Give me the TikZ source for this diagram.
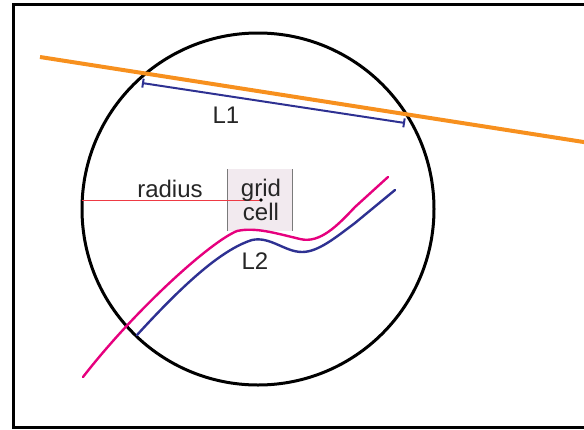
\documentclass[tikz,border=0pt]{standalone}
\usepackage{fontspec}
\setmainfont{Liberation Sans}
\usetikzlibrary{arrows.meta}
\definecolor{orng}{HTML}{F7901E}
\definecolor{navy}{HTML}{2E3192}
\definecolor{mag}{HTML}{E6007E}
\definecolor{redl}{HTML}{EE3A44}
\definecolor{cellfill}{HTML}{F2EAEF}
\definecolor{cellline}{HTML}{7A7A7A}
\tikzset{
  lbl/.style={font=\fontsize{24}{26}\selectfont, text=black!85, inner sep=0pt},
  curve/.style={line width=2.4pt, line cap=round, line join=round},
}
\begin{document}
\begin{tikzpicture}[x=1pt,y=-1pt]
\useasboundingbox (0,0) rectangle (584,429);
% frame
\draw[line width=3pt] (590,4.5) -- (13.5,4.5) -- (13.5,427.5) -- (590,427.5);
% grid cell
\fill[cellfill] (227,169) rectangle (292,231);
\draw[cellline, line width=1pt] (227,169) -- (227,231) (292,169) -- (292,231);
% circle
\draw[line width=3pt] (258,209) circle[radius=176];
% orange line
\coordinate (o1) at (40,57);
\coordinate (o2) at (590,143);
\draw[orng, line width=4pt] (o1) -- (o2);
% L1 segment
\coordinate (a1) at (142,83);
\coordinate (a2) at (405,123);
\draw[navy, line width=2pt, {Bar[width=9pt,line width=2pt]}-{Bar[width=9pt,line width=2pt]}] (a1) -- (a2);
\node[lbl] (L1) at (226,115) {L1};
% radius
\coordinate (r0) at (82,200);
\coordinate (rc) at (261,200);
\draw[redl, line width=0.9pt] (r0) -- (rc);
\fill (rc) circle[radius=1.8];
\node[lbl] (rad) at (170,189) {radius};
\node[lbl, align=center] (cell) at (261,200) {grid\\[-2pt]cell};
% curves
\draw[mag, curve] (83,377) .. controls (135,310) and (210,242) .. (237,231)
  .. controls (255,227) and (275,233) .. (300,239)
  .. controls (320,244) and (338,225) .. (355,207) -- (388,177);
\draw[navy, curve] (137,335) .. controls (180,288) and (220,250) .. (252,240)
  .. controls (270,236) and (285,252) .. (302,252)
  .. controls (318,252) and (335,238) .. (355,223) -- (395,190);
\node[lbl] (L2) at (255,261) {L2};
\end{tikzpicture}
\end{document}
